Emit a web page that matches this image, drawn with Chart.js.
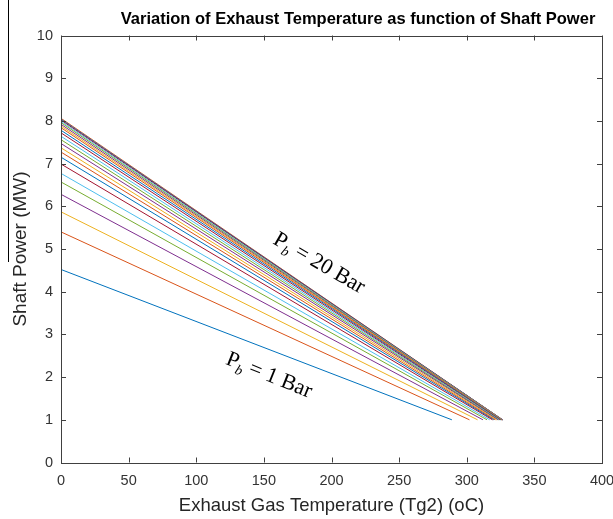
<!DOCTYPE html>
<html>
<head>
<meta charset="utf-8">
<script src="https://cdn.jsdelivr.net/npm/chart.js@4/dist/chart.umd.min.js"></script>
<style>
  body { margin: 0; background: #fff; }
  #wrap { position: relative; width: 613px; height: 519px; }
  #edge { position: absolute; left: 8px; top: 0; width: 1px; height: 262px; background: #000; }
</style>
</head>
<body>
<div id="wrap">
  <canvas id="chart"></canvas>
  <div id="edge"></div>
</div>
<script>
// Données (une courbe par pression)
const curves = [1, 2, 3, 4, 5, 6, 7, 8, 9, 10, 11, 12, 13, 14, 15, 16, 17, 18, 19, 20, 21, 22, 23];
const startPower = [4.52, 5.40, 5.87, 6.28, 6.57, 6.77, 6.99, 7.15, 7.27, 7.37, 7.47, 7.56, 7.64, 7.72, 7.78, 7.84, 7.88, 7.92, 7.96, 7.99, 8.02, 8.04, 8.06];
const endTemp = [289, 302, 308, 312, 315, 317, 319, 320, 321, 322, 323, 323.5, 324, 324.5, 325, 325.3, 325.6, 325.8, 326, 326.2, 326.4, 326.5, 326.6];
const endPower = 1;
const xTicks = [0, 50, 100, 150, 200, 250, 300, 350, 400];
const yTicks = [0, 1, 2, 3, 4, 5, 6, 7, 8, 9, 10];

// Ordre des couleurs MATLAB
const colorOrder = ["#0072BD", "#D95319", "#EDB120", "#7E2F8E", "#77AC30", "#4DBEEE", "#A2142F"];

const datasets = curves.map((c, i) => ({
  label: "Courbe " + c,
  data: [{ x: 0, y: startPower[i] }, { x: endTemp[i], y: endPower }],
  borderColor: colorOrder[i % colorOrder.length],
  borderWidth: 1,
  pointRadius: 0,
  tension: 0,
}));

// Cadre, graduations internes, titre et annotations
const decorPlugin = {
  id: "decor",
  afterDraw(chart) {
    const ctx = chart.ctx;
    const a = chart.chartArea;
    const xs = chart.scales.x;
    const ys = chart.scales.y;
    ctx.save();
    ctx.strokeStyle = "#404040";
    ctx.lineWidth = 1;
    ctx.strokeRect(Math.round(a.left) + 0.5, Math.round(a.top) + 0.5,
      Math.round(a.right - a.left), Math.round(a.bottom - a.top));
    ctx.beginPath();
    xTicks.forEach((v) => {
      const px = Math.round(xs.getPixelForValue(v)) + 0.5;
      ctx.moveTo(px, a.bottom); ctx.lineTo(px, a.bottom - 5);
      ctx.moveTo(px, a.top); ctx.lineTo(px, a.top + 5);
    });
    yTicks.forEach((v) => {
      const py = Math.round(ys.getPixelForValue(v)) + 0.5;
      ctx.moveTo(a.left, py); ctx.lineTo(a.left + 5, py);
      ctx.moveTo(a.right, py); ctx.lineTo(a.right - 5, py);
    });
    ctx.stroke();

    // Titre
    ctx.fillStyle = "#000";
    ctx.font = "bold 16.5px 'Liberation Sans', Arial, sans-serif";
    ctx.textAlign = "center";
    ctx.textBaseline = "middle";
    ctx.fillText("Variation of Exhaust Temperature as function of Shaft Power", 358, 19);

    // Annotations P_b
    const notes = [
      { x: 156, y: 5.14, angle: 30, text: " = 20 Bar" },
      { x: 121, y: 2.31, angle: 22, text: " = 1 Bar" },
    ];
    notes.forEach((n) => {
      ctx.save();
      ctx.translate(xs.getPixelForValue(n.x), ys.getPixelForValue(n.y));
      ctx.rotate((n.angle * Math.PI) / 180);
      ctx.textAlign = "left";
      ctx.textBaseline = "alphabetic";
      ctx.fillStyle = "#000";
      ctx.font = "22px 'Liberation Serif', 'Times New Roman', serif";
      ctx.fillText("P", 0, 0);
      let w = ctx.measureText("P").width;
      ctx.font = "italic 14px 'Liberation Serif', 'Times New Roman', serif";
      ctx.fillText("b", w, 5);
      w += ctx.measureText("b").width;
      ctx.font = "22px 'Liberation Serif', 'Times New Roman', serif";
      ctx.fillText(n.text, w, 0);
      ctx.restore();
    });
    ctx.restore();
  },
};

const tickFont = { family: "'Liberation Sans', Arial, sans-serif", size: 14.5 };

new Chart(document.getElementById("chart"), {
  type: "line",
  data: { datasets },
  options: {
    responsive: true,
    maintainAspectRatio: false,
    animation: false,
    layout: { padding: { top: 35.5, right: 11, bottom: 0, left: 0 } },
    plugins: {
      legend: { display: false },
      tooltip: { enabled: false },
    },
    scales: {
      x: {
        type: "linear",
        min: 0,
        max: 400,
        afterBuildTicks: (s) => { s.ticks = xTicks.map((v) => ({ value: v })); },
        afterFit: (s) => { s.height = 56.5; s.paddingLeft = 0; s.paddingRight = 0; },
        grid: { display: false, drawTicks: false },
        border: { display: false },
        ticks: { font: tickFont, color: "#333", padding: 10, maxRotation: 0 },
        title: {
          display: true,
          text: "Exhaust Gas Temperature (Tg2) (oC)",
          font: { family: "'Liberation Sans', Arial, sans-serif", size: 18.5 },
          color: "#262626",
          padding: { top: 2, bottom: 2 },
        },
      },
      y: {
        type: "linear",
        min: 0,
        max: 10,
        afterBuildTicks: (s) => { s.ticks = yTicks.map((v) => ({ value: v })); },
        afterFit: (s) => { s.width = 61; s.paddingTop = 0; s.paddingBottom = 0; },
        grid: { display: false, drawTicks: false },
        border: { display: false },
        ticks: { font: tickFont, color: "#333", padding: 8 },
        title: {
          display: true,
          text: "Shaft Power (MW)",
          font: { family: "'Liberation Sans', Arial, sans-serif", size: 19 },
          color: "#262626",
          padding: { top: 9, bottom: 9 },
        },
      },
    },
  },
  plugins: [decorPlugin],
});
</script>
</body>
</html>
